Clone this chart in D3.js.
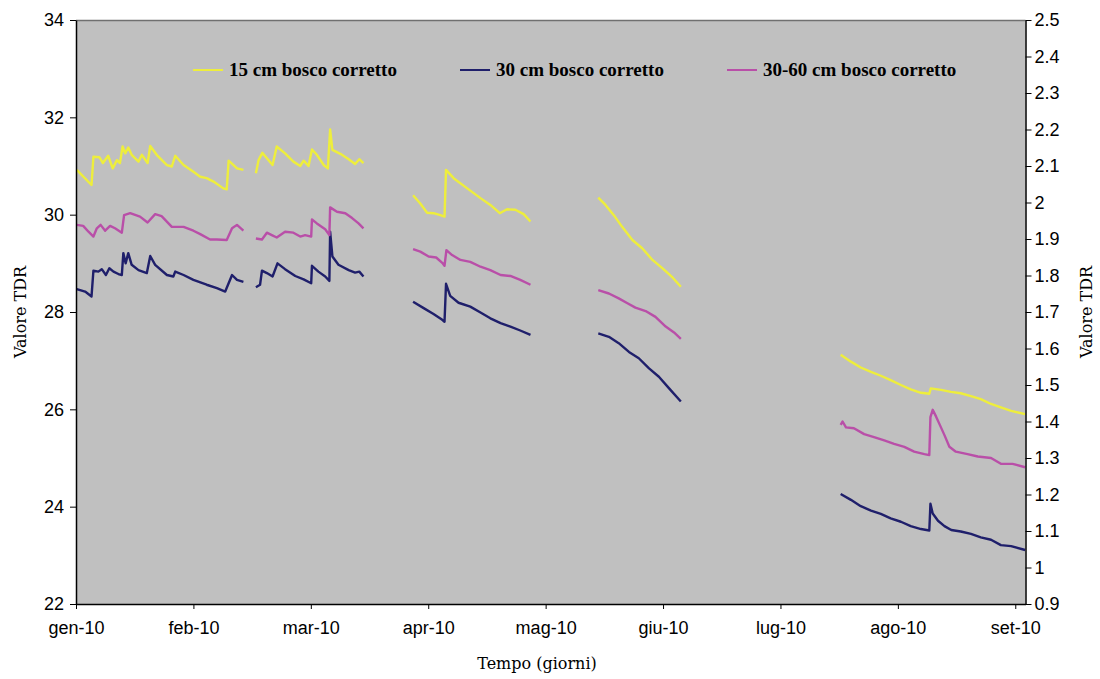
<!DOCTYPE html>
<html lang="it">
<head>
<meta charset="UTF-8">
<title>Valore TDR</title>
<script src="https://cdn.jsdelivr.net/npm/d3@7"></script>
<style>
    body { margin: 0; background: #fff; }
    .tick text { font-family: Arial, "Liberation Sans", sans-serif; font-size: 18px; fill: #000; }
    .title { font-family: "DejaVu Serif", serif; font-size: 16px; }
    .legend { font-family: "Liberation Serif", "Times New Roman", serif; font-size: 19px; font-weight: bold; }
</style>
</head>
<body>
<svg width="1100" height="679"></svg>
<script>
// giorni dal 1 gennaio 2010, valore TDR ; null = dato mancante
var cm15 = [
    [0.2,30.92],[4.1,30.61],[4.6,31.19],[6.2,31.18],[7.1,31.06],[8.5,31.21],[9.7,30.95],[10.8,31.12],
    [11.6,31.06],[12.3,31.40],[13,31.26],[13.8,31.38],[14.7,31.23],[16.5,31.09],[17.4,31.23],[18.9,31.06],
    [19.6,31.41],[21.3,31.23],[24,31.02],[25.3,30.99],[26.2,31.21],[28.4,31.02],[31,30.88],[32.8,30.78],
    [34.5,30.75],[36.3,30.68],[38.9,30.54],[39.8,30.52],[40.3,31.11],[41.6,31.02],[42.5,30.95],[44.2,30.92],
    null,
    [47.5,30.85],[48.2,31.12],[49.2,31.27],[50.4,31.16],[51.9,31.02],[53,31.40],[55.2,31.26],[57.4,31.09],
    [59.2,31.00],[60.1,31.11],[61.4,31.00],[62.3,31.34],[63.6,31.23],[65.4,31.02],[66.5,30.95],[67.1,31.75],
    [67.7,31.33],[69.8,31.25],[72,31.14],[73.7,31.04],[74.8,31.14],[75.9,31.06],
    null,
    [89,30.40],[90.9,30.23],[92.7,30.04],[94.4,30.03],[96.2,29.99],[97.3,29.96],[97.7,30.92],[99.7,30.75],
    [103.3,30.54],[106.8,30.34],[109.4,30.20],[111.9,30.03],[113.8,30.11],[116,30.10],[118.2,30.01],[120,29.86],
    null,
    [137.9,30.35],[139.8,30.20],[142,29.99],[144.2,29.75],[146.9,29.48],[149.5,29.31],[152.2,29.07],
    [154.8,28.90],[157.5,28.71],[159.7,28.52],
    null,
    [201.9,27.12],[204.6,26.98],[207.2,26.86],[209.9,26.77],[212.5,26.69],[215.1,26.60],[217.8,26.50],
    [220.4,26.41],[223.1,26.34],[225.3,26.32],[225.7,26.43],[228.4,26.40],[231,26.36],[233.6,26.33],
    [236.3,26.27],[238.9,26.21],[241.6,26.11],[244.2,26.04],[246.9,25.97],[250.6,25.90]
];

var cm30 = [
    [0.2,28.47],[2.4,28.42],[4.1,28.32],[4.6,28.85],[5.9,28.83],[6.8,28.88],[7.9,28.76],[8.8,28.90],
    [9.9,28.83],[11.2,28.78],[12.1,28.76],[12.5,29.21],[13.1,29.00],[13.8,29.21],[14.7,28.97],[16.5,28.86],
    [18.7,28.80],[19.6,29.15],[20.9,28.97],[24,28.76],[25.7,28.73],[26.2,28.83],[28.4,28.76],[31,28.66],
    [34.5,28.56],[37.2,28.49],[39.4,28.42],[41.2,28.76],[42.5,28.66],[44.2,28.62],
    null,
    [47.5,28.51],[48.6,28.56],[49.1,28.85],[50.4,28.80],[51.9,28.73],[53.2,29.00],[55.2,28.88],[57.9,28.74],
    [60.1,28.67],[62.1,28.59],[62.3,28.95],[64,28.83],[65.8,28.73],[66.9,28.64],[67.1,29.65],[67.7,29.14],
    [69.3,28.97],[72,28.86],[73.7,28.81],[74.8,28.83],[75.9,28.73],
    null,
    [89,28.21],[91.8,28.08],[94.4,27.96],[96.7,27.84],[97.3,27.80],[97.7,28.58],[98.8,28.33],[101,28.19],
    [104.1,28.11],[106.8,27.99],[109.4,27.87],[112.1,27.77],[114.7,27.70],[117.3,27.62],[120,27.53],
    null,
    [137.9,27.56],[140.7,27.49],[143.3,27.36],[146,27.18],[148.6,27.05],[151.3,26.84],[153.9,26.67],
    [156.6,26.43],[159.7,26.16],
    null,
    [201.9,24.26],[204.6,24.14],[207.2,24.01],[209.9,23.92],[212.5,23.85],[215.1,23.76],[217.8,23.69],
    [220.4,23.60],[223.1,23.54],[225.3,23.51],[225.6,24.06],[226.2,23.86],[227.6,23.71],[229.3,23.60],
    [231.1,23.52],[233.6,23.49],[236.3,23.44],[238.9,23.37],[241.6,23.32],[244.2,23.21],[246.9,23.19],
    [250.6,23.11]
];

var cm3060 = [
    [0.2,29.79],[1.9,29.77],[3.3,29.65],[4.6,29.55],[5.5,29.72],[6.5,29.79],[7.7,29.67],[9,29.77],
    [10.3,29.72],[12.1,29.63],[12.7,29.99],[14.3,30.03],[16.9,29.96],[18.9,29.84],[20.9,30.01],[22.6,29.97],
    [25.3,29.75],[28.4,29.75],[31,29.67],[32.8,29.60],[35.4,29.49],[37.2,29.49],[39.8,29.48],[41.2,29.72],
    [42.5,29.79],[44.2,29.67],
    null,
    [47.5,29.51],[49.1,29.49],[50.4,29.63],[51.7,29.58],[53,29.53],[55.2,29.65],[57.4,29.63],[59.2,29.55],
    [60.5,29.58],[62.1,29.55],[62.3,29.90],[63.6,29.82],[65.8,29.70],[66.9,29.58],[67.1,30.15],[68.9,30.06],
    [71.1,30.03],[72.9,29.93],[74.6,29.82],[75.9,29.72],
    null,
    [89,29.29],[90.9,29.24],[93.1,29.14],[95.1,29.12],[96.7,29.01],[97.3,28.95],[97.8,29.27],[99.3,29.17],
    [101.5,29.07],[104.1,29.03],[106.8,28.93],[109.4,28.86],[112.1,28.76],[114.7,28.74],[117.3,28.66],[120,28.56],
    null,
    [137.9,28.45],[140.7,28.38],[143.3,28.28],[145.6,28.18],[147.7,28.09],[150.4,28.02],[153,27.90],
    [155.7,27.70],[157.9,27.58],[159.7,27.45],
    null,
    [201.9,25.68],[202.4,25.75],[203.3,25.63],[205.4,25.61],[208.1,25.49],[210.7,25.43],[213.4,25.36],
    [216,25.29],[218.7,25.23],[221.3,25.13],[224,25.08],[225.3,25.06],[225.6,25.84],[226.2,25.99],
    [227.1,25.85],[228.2,25.66],[229.3,25.47],[230.6,25.23],[232.3,25.13],[235.4,25.08],[238.1,25.03],
    [241.6,25.00],[244.2,24.88],[247.3,24.88],[250.6,24.81]
];

var seriesNames = ["15 cm bosco corretto", "30 cm bosco corretto", "30-60 cm bosco corretto"];
var seriesColors = ["#EEEE3C", "#1F1F6B", "#B94FA8"];

var monthDays = [0, 31, 62, 93, 124, 155, 186, 217, 248];
var monthLabels = ["gen-10", "feb-10", "mar-10", "apr-10", "mag-10", "giu-10", "lug-10", "ago-10", "set-10"];
var leftTicks = [22, 24, 26, 28, 30, 32, 34];
var rightTicks = [0.9, 1, 1.1, 1.2, 1.3, 1.4, 1.5, 1.6, 1.7, 1.8, 1.9, 2, 2.1, 2.2, 2.3, 2.4, 2.5];

var svg = d3.select("svg");
var pL = 76, pR = 1025.5, pT = 20, pB = 604;

var x = d3.scaleLinear().domain([0, 250.7]).range([pL, pR]);
var y = d3.scaleLinear().domain([22, 34]).range([pB, pT]);
var y2 = d3.scaleLinear().domain([0.9, 2.5]).range([pB, pT]);

// sfondo area grafico
svg.append("rect")
    .attr("x", pL).attr("y", pT)
    .attr("width", pR - pL).attr("height", pB - pT)
    .attr("fill", "#C0C0C0");
svg.append("line")
    .attr("x1", pL).attr("x2", pR).attr("y1", pT + 0.5).attr("y2", pT + 0.5)
    .attr("stroke", "#707070").attr("stroke-width", 1.5);

var line = d3.line()
    .defined(function (d) { return d !== null; })
    .x(function (d) { return x(d[0]); })
    .y(function (d) { return y(d[1]); });

[cm15, cm30, cm3060].forEach(function (s, i) {
    svg.append("path")
        .datum(s)
        .attr("d", line)
        .attr("fill", "none")
        .attr("stroke", seriesColors[i])
        .attr("stroke-width", 2.4)
        .attr("stroke-linejoin", "round");
});

// assi
var gx = svg.append("g")
    .attr("transform", "translate(0," + pB + ")")
    .call(d3.axisBottom(x).tickValues(monthDays)
        .tickFormat(function (d, i) { return monthLabels[i]; })
        .tickSize(5).tickPadding(12).tickSizeOuter(0));
gx.select(".domain").attr("stroke-width", 1.5);

var gy = svg.append("g")
    .attr("transform", "translate(" + pL + ",0)")
    .call(d3.axisLeft(y).tickValues(leftTicks).tickSize(6).tickPadding(6).tickSizeOuter(0));
gy.select(".domain").attr("stroke-width", 1.5);

var gy2 = svg.append("g")
    .attr("transform", "translate(" + pR + ",0)")
    .call(d3.axisRight(y2).tickValues(rightTicks).tickFormat(d3.format("")).tickSize(6).tickPadding(3).tickSizeOuter(0));
gy2.select(".domain").attr("stroke-width", 1.5);

svg.selectAll(".tick line").attr("stroke", "#000");

// titoli assi
svg.append("text").attr("class", "title")
    .attr("transform", "translate(26," + ((pT + pB) / 2) + ") rotate(-90)")
    .attr("text-anchor", "middle").text("Valore TDR");
svg.append("text").attr("class", "title")
    .attr("transform", "translate(1092," + ((pT + pB) / 2) + ") rotate(-90)")
    .attr("text-anchor", "middle").text("Valore TDR");
svg.append("text").attr("class", "title")
    .attr("x", 537).attr("y", 669)
    .attr("text-anchor", "middle").text("Tempo (giorni)");

// legenda
var legendX = [193, 460, 727];
seriesNames.forEach(function (name, i) {
    svg.append("line")
        .attr("x1", legendX[i]).attr("x2", legendX[i] + 30)
        .attr("y1", 70).attr("y2", 70)
        .attr("stroke", seriesColors[i]).attr("stroke-width", 2);
    svg.append("text").attr("class", "legend")
        .attr("x", legendX[i] + 36).attr("y", 76)
        .text(name);
});
</script>
</body>
</html>
